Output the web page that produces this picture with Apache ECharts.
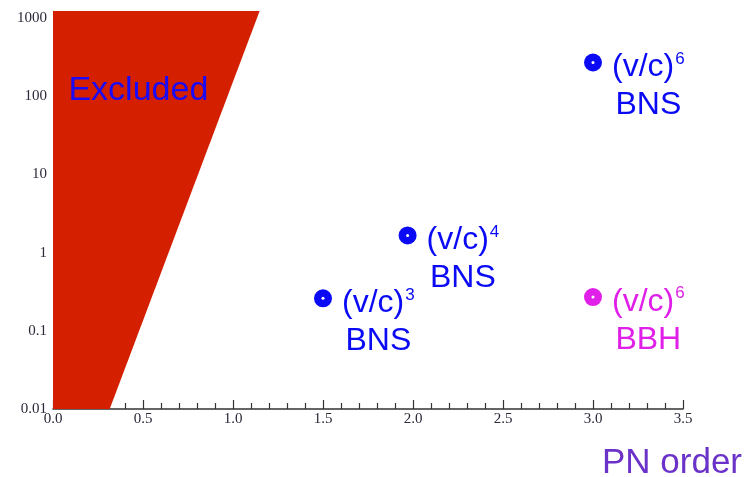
<!DOCTYPE html>
<html><head><meta charset="utf-8">
<script src="https://cdn.jsdelivr.net/npm/echarts@6/dist/echarts.min.js"></script>
<style>html,body{margin:0;padding:0;background:#fff}#c{width:744px;height:477px}</style>
</head><body><div id="c"></div>
<script>
// Data
const bnsPN = [1.5, 1.97, 3.0];
const bnsValues = [0.26, 1.66, 270];
const bnsPowers = ['3', '4', '6'];
const bbhPN = [3.0];
const bbhValues = [0.27];
const bbhPowers = ['6'];
const boundaryPN = [0, 0.315, 1.148, 0];
const boundaryValue = [0.01, 0.01, 1230, 1230];
const excludedPos = [0.083, 117];
const yTickLabels = ['0.01', '0.1', '1', '10', '100', '1000'];
const xMin = 0, xMax = 3.5, yMin = 0.01, yMax = 1230;

const BLUE = '#0a0af5', MAGENTA = '#e020e8', RED = '#d42000', PURPLE = '#6a32c8';
const serif = '"Liberation Serif","DejaVu Serif",serif';
const sans = '"Liberation Sans",Arial,sans-serif';

function pointLabel(color) {
  return {
    show: true, position: 'right', distance: 0, offset: [10, -14],
    align: 'left', verticalAlign: 'top',
    formatter: p => '{a|(v/c)}{s|' + p.data[2] + '}\n{b|' + p.data[3] + '}',
    rich: {
      a: { fontFamily: sans, fontSize: 32, lineHeight: 38, color: color, align: 'center' },
      s: { fontFamily: sans, fontSize: 17, lineHeight: 20, color: color, verticalAlign: 'top', align: 'center', padding: [2, 0, 0, 1] },
      b: { fontFamily: sans, fontSize: 32, lineHeight: 38, color: color, align: 'center' }
    }
  };
}

const bnsData = bnsPN.map((x, i) => [x, bnsValues[i], bnsPowers[i], 'BNS']);
const bbhData = bbhPN.map((x, i) => [x, bbhValues[i], bbhPowers[i], 'BBH']);
const boundaryData = boundaryPN.map((x, i) => [x, boundaryValue[i]]);

const chart = echarts.init(document.getElementById('c'), null, { renderer: 'canvas' });
chart.setOption({
  animation: false,
  backgroundColor: '#fff',
  grid: { left: 53, right: 61, top: 11, bottom: 68, containLabel: false },
  xAxis: {
    type: 'value', min: xMin, max: xMax, interval: 0.5,
    axisLine: { show: true, lineStyle: { color: '#333', width: 1.5 } },
    axisTick: { show: true, inside: true, length: 9, lineStyle: { color: '#333', width: 1.2 } },
    minorTick: { show: true, splitNumber: 5, length: 6, lineStyle: { color: '#333', width: 1.2 } },
    splitLine: { show: false },
    axisLabel: { margin: 3, fontFamily: serif, fontSize: 15, color: '#2a2a3a', formatter: v => v.toFixed(1) }
  },
  yAxis: {
    type: 'log', logBase: 10, min: yMin, max: yMax,
    axisLine: { show: false }, axisTick: { show: false }, splitLine: { show: false }, minorTick: { show: false },
    axisLabel: {
      margin: 6, fontFamily: serif, fontSize: 15, color: '#2a2a3a',
      formatter: v => {
        const l = Math.log10(v), r = Math.round(l);
        if (Math.abs(l - r) > 1e-6) return '';
        return yTickLabels[r + 2] || '';
      }
    }
  },
  graphic: [{
    type: 'text', right: 2, top: 446,
    style: { text: 'PN order', fontFamily: sans, fontSize: 35, fill: PURPLE }
  }],
  series: [
    {
      type: 'custom', z: 3, clip: false,
      data: boundaryData,
      renderItem: (params, api) => {
        if (params.dataIndex !== 0) return null;
        const pts = boundaryData.map(d => api.coord(d));
        return { type: 'polygon', shape: { points: pts }, style: { fill: RED } };
      }
    },
    {
      type: 'scatter', z: 4, data: [excludedPos], symbolSize: 1, itemStyle: { color: 'rgba(0,0,0,0)', opacity: 1 },
      label: { show: true, position: 'right', distance: 0, formatter: 'Excluded',
        fontFamily: sans, fontSize: 34, color: '#1a0af8' }
    },
    { type: 'scatter', z: 5, data: bnsData, symbolSize: 18, itemStyle: { color: BLUE, opacity: 1 }, label: pointLabel(BLUE) },
    { type: 'scatter', z: 5, data: bbhData, symbolSize: 18, itemStyle: { color: MAGENTA, opacity: 1 }, label: pointLabel(MAGENTA) },
    { type: 'scatter', z: 6, data: bnsData.concat(bbhData).map(d => [d[0], d[1]]), symbolSize: 3, itemStyle: { color: '#fff', opacity: 1 } }
  ]
});
</script></body></html>
